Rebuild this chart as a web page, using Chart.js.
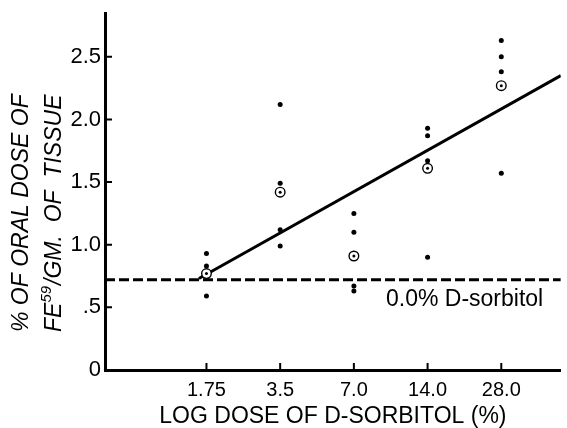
<!DOCTYPE html>
<html>
<head>
<meta charset="utf-8">
<script src="https://cdn.jsdelivr.net/npm/chart.js@4"></script>
<style>
  body { margin: 0; background: #fff; }
</style>
</head>
<body>
<canvas id="sorbitolChart" width="567" height="428"></canvas>
<script>
// Dose groups (% D-sorbitol), plotted on a log axis
const doses = [1.75, 3.5, 7.0, 14.0, 28.0];
const xTickLabels = ["1.75", "3.5", "7.0", "14.0", "28.0"];
const yTicks = [0, 0.5, 1.0, 1.5, 2.0, 2.5];
const yTickLabels = ["0", ".5", "1.0", "1.5", "2.0", "2.5"];

// Individual animals, one list per dose
const individualValues = [
  [0.93, 0.83, 0.59],
  [2.12, 1.49, 1.12, 0.99],
  [1.25, 1.10, 0.67, 0.63],
  [1.93, 1.87, 1.67, 0.90],
  [2.63, 2.50, 2.38, 1.57]
];
// Group means (circled points)
const meanValues = [0.77, 1.42, 0.91, 1.61, 2.27];

// Fitted line and control level
const fitDoses = [1.63, 49];
const fitValues = [0.73, 2.35];
const controlLevel = 0.72;
const controlLabel = "0.0% D-sorbitol";

const xMin = 0.674, xMax = 49;
const FONT = "'Liberation Sans', Arial, sans-serif";

const individualPoints = doses.flatMap((d, i) => individualValues[i].map(v => ({ x: d, y: v })));
const meanPoints = doses.map((d, i) => ({ x: d, y: meanValues[i] }));

// Inward tick marks, y-axis title with superscript, control label
const extras = {
  id: "extras",
  afterDraw(chart) {
    const ctx = chart.ctx;
    const xs = chart.scales.x, ys = chart.scales.y;
    const area = chart.chartArea;
    ctx.save();
    ctx.strokeStyle = "#000";
    ctx.lineWidth = 2;
    ctx.beginPath();
    ys.ticks.forEach(t => {
      if (t.value === 0) return;
      const py = ys.getPixelForValue(t.value);
      ctx.moveTo(area.left, py);
      ctx.lineTo(area.left + 7, py);
    });
    xs.ticks.forEach(t => {
      const px = xs.getPixelForValue(t.value);
      ctx.moveTo(px, area.bottom);
      ctx.lineTo(px, area.bottom - 7);
    });
    ctx.stroke();

    // control label under the dashed line
    ctx.fillStyle = "#000";
    ctx.font = "23px " + FONT;
    ctx.textAlign = "left";
    ctx.textBaseline = "alphabetic";
    ctx.fillText(controlLabel, 386, ys.getPixelForValue(controlLevel) + 26);

    // y title, two rotated lines
    ctx.font = "italic 23px " + FONT;
    ctx.save();
    ctx.translate(28, 332);
    ctx.rotate(-Math.PI / 2);
    ctx.fillText("% OF ORAL DOSE OF", 0, 0);
    ctx.restore();

    ctx.save();
    ctx.translate(61, 332);
    ctx.rotate(-Math.PI / 2);
    let pos = 0;
    ctx.font = "italic 23px " + FONT;
    ctx.fillText("FE", pos, 0);
    pos += ctx.measureText("FE").width;
    ctx.font = "italic 15px " + FONT;
    ctx.fillText("59", pos, -10);
    pos += ctx.measureText("59").width + 1;
    ctx.font = "italic 23px " + FONT;
    ctx.fillText("/GM.  OF  TISSUE", pos, 0);
    ctx.restore();
    ctx.restore();
  }
};

new Chart(document.getElementById("sorbitolChart"), {
  type: "scatter",
  data: {
    datasets: [
      {
        data: meanPoints,
        pointRadius: 1.5,
        pointBackgroundColor: "#000",
        pointBorderWidth: 0,
        order: 0
      },
      {
        data: meanPoints,
        pointRadius: 4.8,
        pointBackgroundColor: "#fff",
        pointBorderColor: "#000",
        pointBorderWidth: 1.4,
        order: 1
      },
      {
        data: individualPoints,
        pointRadius: 2.5,
        pointBackgroundColor: "#000",
        pointBorderWidth: 0,
        order: 2
      },
      {
        type: "line",
        data: fitDoses.map((d, i) => ({ x: d, y: fitValues[i] })),
        borderColor: "#000",
        borderWidth: 3,
        pointRadius: 0,
        order: 3
      },
      {
        type: "line",
        data: [{ x: xMin, y: controlLevel }, { x: xMax, y: controlLevel }],
        borderColor: "#000",
        borderWidth: 3,
        borderDash: [10, 4],
        pointRadius: 0,
        order: 4
      }
    ]
  },
  options: {
    responsive: false,
    animation: false,
    devicePixelRatio: 1,
    layout: { padding: { top: 13, right: 0, left: 0, bottom: 0 } },
    plugins: { legend: { display: false }, tooltip: { enabled: false } },
    scales: {
      x: {
        type: "logarithmic",
        min: xMin,
        max: xMax,
        afterBuildTicks: s => { s.ticks = doses.map(v => ({ value: v })); },
        afterFit: s => { s.height = 58; s.paddingLeft = 0; s.paddingRight = 0; },
        grid: { drawOnChartArea: false, drawTicks: false },
        border: { display: true, color: "#000", width: 3 },
        ticks: {
          color: "#000",
          padding: 8,
          font: { family: FONT, size: 20 },
          maxRotation: 0,
          callback: (v, i) => xTickLabels[i]
        },
        title: {
          display: true,
          text: "LOG DOSE OF D-SORBITOL (%)",
          color: "#000",
          font: { family: FONT, size: 23, lineHeight: 1 },
          padding: { top: 0, bottom: 0 }
        }
      },
      y: {
        min: 0,
        max: 2.85,
        afterBuildTicks: s => { s.ticks = yTicks.map(v => ({ value: v })); },
        afterFit: s => { s.width = 105; s.paddingTop = 0; s.paddingBottom = 0; },
        grid: { drawOnChartArea: false, drawTicks: false },
        border: { display: true, color: "#000", width: 3 },
        ticks: {
          color: "#000",
          padding: 4,
          font: { family: FONT, size: 22 },
          callback: (v, i) => yTickLabels[i]
        }
      }
    }
  },
  plugins: [extras]
});
</script>
</body>
</html>
